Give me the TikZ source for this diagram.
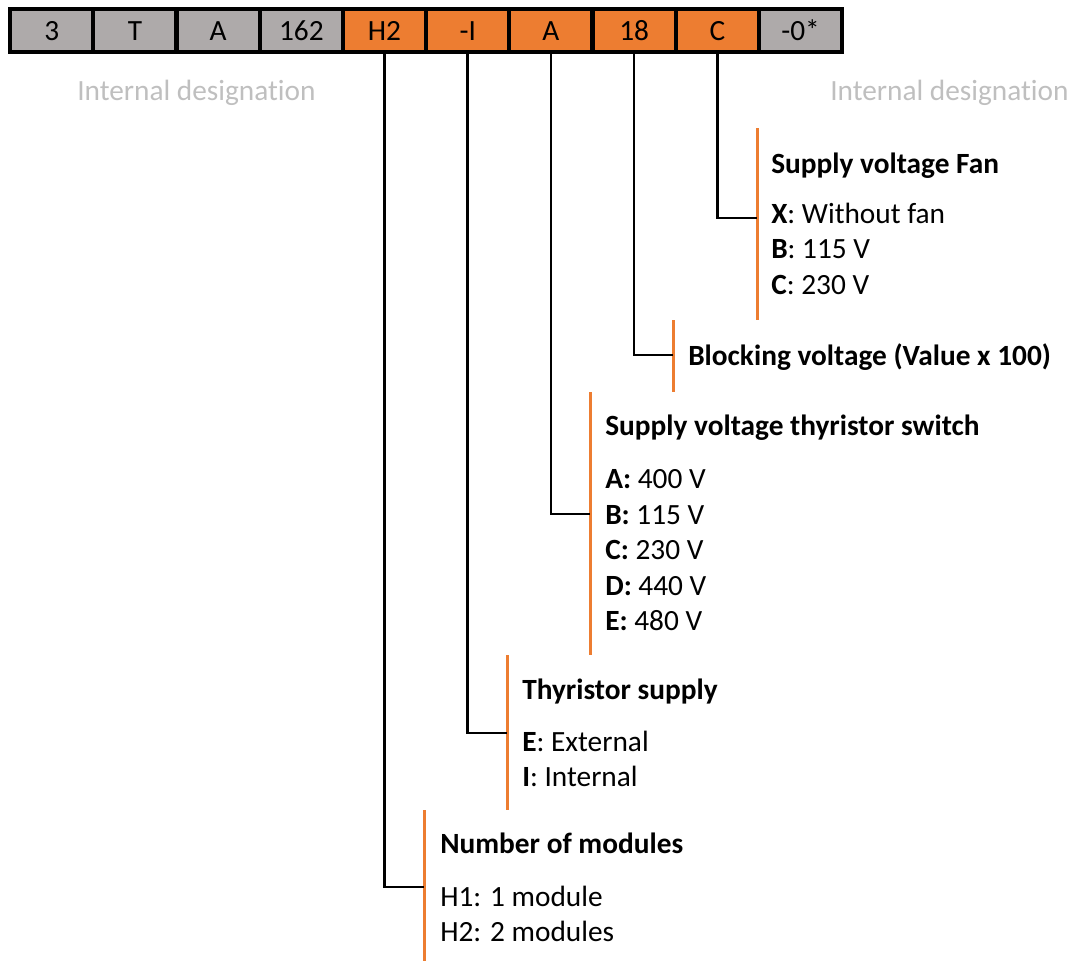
\documentclass[tikz,border=0pt]{standalone}
\usepackage{fontspec}
\setmainfont{Carlito}[Ligatures=NoCommon]
\definecolor{cgray}{HTML}{AEAAAA}
\definecolor{corange}{HTML}{ED7D31}
\definecolor{ltxt}{HTML}{BFBFBF}
\begin{document}
\begin{tikzpicture}[x=0.75pt,y=-0.75pt,
  cell/.style={draw=black, line width=3.2pt, minimum width=62.4pt, minimum height=32.25pt,
    inner sep=0pt, text height=15pt, text depth=0pt, font=\fontsize{22}{26}\selectfont, anchor=north west},
  gcell/.style={cell, fill=cgray},
  ocell/.style={cell, fill=corange},
  lab/.style={anchor=base west, inner sep=0pt, font=\fontsize{22}{26}\selectfont},
  glab/.style={lab, text=ltxt},
  oline/.style={draw=corange, line width=2.25pt},
  conn/.style={draw=black, line width=1.9pt}]
\useasboundingbox (0,0) rectangle (1073,961);
% code bar
\node[gcell] (c1) at (8.0,7) {3};
\node[gcell] (c2) at (91.2,7) {T};
\node[gcell] (c3) at (174.4,7) {A};
\node[gcell] (c4) at (257.6,7) {162};
\node[ocell] (c5) at (340.8,7) {H2};
\node[ocell] (c6) at (424.0,7) {-I};
\node[ocell] (c7) at (507.2,7) {A};
\node[ocell] (c8) at (590.4,7) {18};
\node[ocell] (c9) at (673.6,7) {C};
\node[gcell] (c10) at (756.8,7) {-0*};
% internal designation
\node[glab] (id1) at (77,100) {Internal designat\kern0pt ion};
\node[glab] (id2) at (830,100) {Internal designat\kern0pt ion};
% orange bars
\coordinate (f1) at (757,128); \coordinate (f2) at (757,320);
\coordinate (b1) at (673,320); \coordinate (b2) at (673,392);
\coordinate (s1) at (590,392); \coordinate (s2) at (590,655);
\coordinate (t1) at (507,655); \coordinate (t2) at (507,810);
\coordinate (m1) at (424,810); \coordinate (m2) at (424,961);
\draw[oline] (f1) -- (f2);
\draw[oline] (b1) -- (b2);
\draw[oline] (s1) -- (s2);
\draw[oline] (t1) -- (t2);
\draw[oline] (m1) -- (m2);
% join points
\coordinate (fj) at (757,218);
\coordinate (bj) at (673,355);
\coordinate (sj) at (590,514);
\coordinate (tj) at (507,733);
\coordinate (mj) at (424,887);
\draw[conn] (c9.south) |- (fj);
\draw[conn] (c8.south) |- (bj);
\draw[conn] (c7.south) |- (sj);
\draw[conn] (c6.south) |- (tj);
\draw[conn] (c5.south) |- (mj);
% fan
\node[lab] (fan) at (771,173) {\textbf{Supply voltage Fan}};
\node[lab] (fanx) at (771,223) {\textbf{X}: Without fan};
\node[lab] (fanb) at (771,258) {\textbf{B}: 115 V};
\node[lab] (fanc) at (771,294) {\textbf{C}: 230 V};
% blocking
\node[lab] (blk) at (688,365) {\textbf{Blocking voltage (Value x 100)}};
% switch
\node[lab] (sw) at (605,435) {\textbf{Supply voltage thyristor switch}};
\node[lab] (swa) at (605,488) {\textbf{A:} 400 V};
\node[lab] (swb) at (605,524) {\textbf{B:} 115 V};
\node[lab] (swc) at (605,559) {\textbf{C:} 230 V};
\node[lab] (swd) at (605,595) {\textbf{D:} 440 V};
\node[lab] (swe) at (605,630) {\textbf{E:} 480 V};
% thyristor supply
\node[lab] (ts) at (522,699) {\textbf{Thyristor supply}};
\node[lab] (tse) at (522,751) {\textbf{E}: External};
\node[lab] (tsi) at (522,786) {\textbf{I}: Internal};
% modules
\node[lab] (nm) at (440,853) {\textbf{Number of modules}};
\node[lab] (nm1) at (440,906) {H1: 1 module};
\node[lab] (nm2) at (440,941) {H2: 2 modules};
\end{tikzpicture}
\end{document}
